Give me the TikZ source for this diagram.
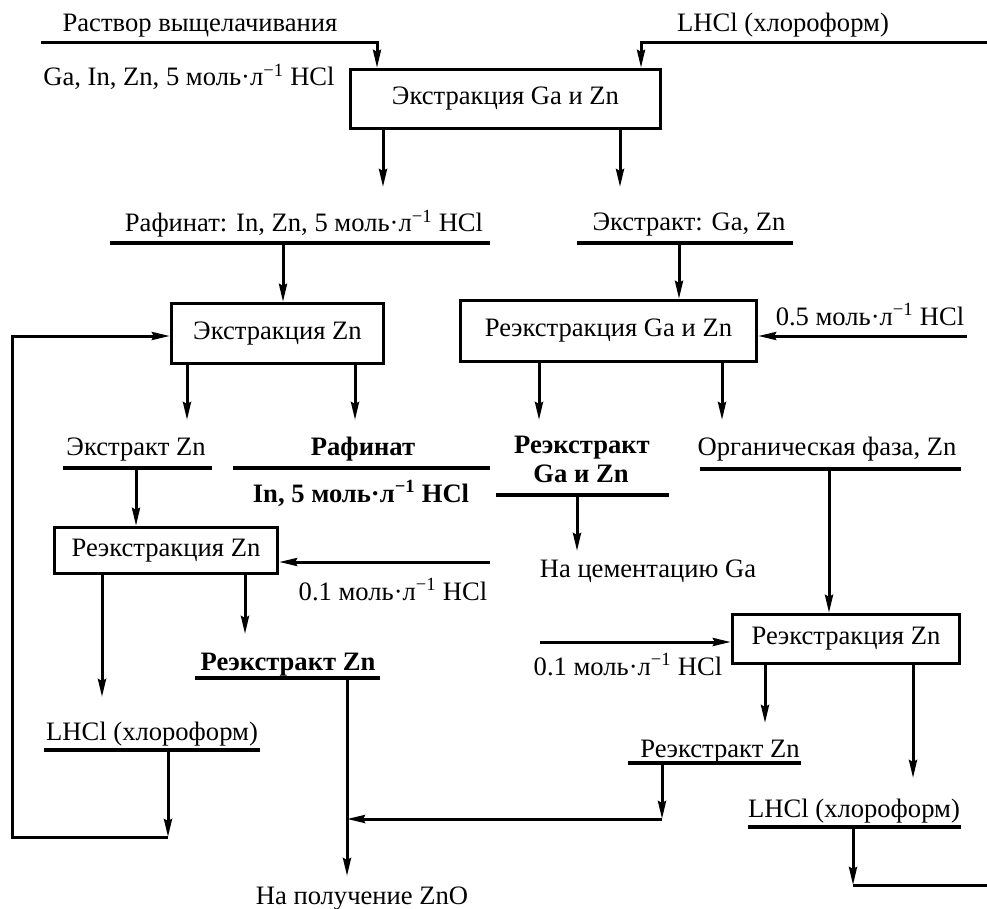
\documentclass[tikz,border=0pt]{standalone}
\usepackage{fontspec}
\setmainfont{Liberation Serif}
\usetikzlibrary{arrows.meta}
\newcommand\dfont{\fontsize{26.6}{30}\selectfont}
\newcommand\ml{моль·л\textsuperscript{−1}}
\begin{document}
\begin{tikzpicture}[x=1pt,y=-1pt,
  line width=3pt, line join=miter,
  box/.style={draw, line width=3.3pt, inner sep=0pt, font=\dfont},
  lbl/.style={inner sep=0pt, anchor=base, font=\dfont},
  blbl/.style={lbl, font=\dfont\bfseries},
  bar/.style={line width=3.3pt},
  arr/.style={-{Stealth[length=18pt,width=8pt,inset=2pt]}}]
\useasboundingbox (0,0) rectangle (987,909);

% ---------- boxes
\node[box, minimum width=310pt, minimum height=59pt] (b1) at (505.5,99) {Экстракция Ga и Zn};
\node[box, minimum width=212pt, minimum height=60pt] (b2) at (277.5,333.5) {Экстракция Zn};
\node[box, minimum width=296pt, minimum height=61pt] (b3) at (608.5,331) {Реэкстракция Ga и Zn};
\node[box, minimum width=223pt, minimum height=46pt] (b4) at (166,550.5) {Реэкстракция Zn};
\node[box, minimum width=227pt, minimum height=49pt] (b5) at (846,639) {Реэкстракция Zn};

% ---------- labels
\node[lbl] (tFeed) at (200,32) {Раствор выщелачивания};
\node[lbl] (tFeed2) at (189,86) {Ga, In, Zn, 5 \ml{} HCl};
\node[lbl] (tLHCl1) at (783,32) {LHCl (хлороформ)};
\node[lbl] (tRaf) at (304,232) {Рафинат: In, Zn, 5 \ml{} HCl};
\node[lbl] (tExt) at (689,231) {Экстракт: Ga, Zn};
\node[lbl] (t05) at (870,325) {0.5 \ml{} HCl};
\node[lbl] (tExtZn) at (136,455) {Экстракт Zn};
\node[blbl] (tRaf2) at (363,455) {Рафинат};
\node[blbl] (tRaf3) at (361,502) {In, 5 \ml{} HCl};
\node[blbl] (tRe1) at (582,453) {Реэкстракт};
\node[blbl] (tRe2) at (581,482) {Ga и Zn};
\node[lbl] (tOrg) at (827,455) {Органическая фаза, Zn};
\node[lbl] (tCem) at (648,577) {На цементацию Ga};
\node[lbl] (t01a) at (393,600) {0.1 \ml{} HCl};
\node[lbl] (t01b) at (628,675) {0.1 \ml{} HCl};
\node[blbl] (tReZnL) at (288,670) {Реэкстракт Zn};
\node[lbl] (tLHCl2) at (152,740) {LHCl (хлороформ)};
\node[lbl] (tZnO) at (362,904) {На получение ZnO};
\node[lbl] (tReZnR) at (720,757) {Реэкстракт Zn};
\node[lbl] (tLHCl3) at (854,817) {LHCl (хлороформ)};

% ---------- coordinates
\coordinate (feedL) at (41,43);
\coordinate (feedLx) at (377,43);
\coordinate (feedR) at (987,43);
\coordinate (feedRx) at (641,43);
\coordinate (o1a) at (383,187);
\coordinate (o1b) at (620,187);
\coordinate (rafL) at (110,243);
\coordinate (rafR) at (490,243);
\coordinate (rafD) at (283,243);
\coordinate (extL) at (577,243);
\coordinate (extR) at (793,243);
\coordinate (extD) at (679,243);
\coordinate (f05) at (967,336);
\coordinate (o2a) at (187,420);
\coordinate (o2b) at (355,420);
\coordinate (o3a) at (539,420);
\coordinate (o3b) at (722,420);
\coordinate (ezL) at (63,468);
\coordinate (ezR) at (212,468);
\coordinate (ezD) at (136,468);
\coordinate (r2L) at (233,468);
\coordinate (r2R) at (490,468);
\coordinate (reL) at (496,495);
\coordinate (reR) at (669,495);
\coordinate (reD) at (577,495);
\coordinate (reE) at (577,551);
\coordinate (orL) at (700,469);
\coordinate (orR) at (961,469);
\coordinate (orD) at (829,469);
\coordinate (f01a) at (490,562);
\coordinate (f01b) at (540,642);
\coordinate (o4a) at (102,697);
\coordinate (o4b) at (245,634);
\coordinate (rzL) at (195,678);
\coordinate (rzR) at (380,678);
\coordinate (rzD) at (347,678);
\coordinate (rzE) at (347,876);
\coordinate (join) at (347,819);
\coordinate (o5a) at (765,723);
\coordinate (o5b) at (913,778);
\coordinate (rrL) at (628,763);
\coordinate (rrR) at (801,763);
\coordinate (rrD) at (662,763);
\coordinate (rrC) at (662,819);
\coordinate (lrL) at (748,827);
\coordinate (lrR) at (961,827);
\coordinate (lrD) at (853,827);
\coordinate (lrC) at (853,885);
\coordinate (lrE) at (987,885);
\coordinate (llL) at (44,750);
\coordinate (llR) at (260,750);
\coordinate (llD) at (168,750);
\coordinate (llC) at (168,837);
\coordinate (loopB) at (12,837);
\coordinate (loopT) at (12,336);

% ---------- feeds into box 1
\draw[arr] (feedL) -| (feedLx |- b1.north);
\draw[arr] (feedR) -| (feedRx |- b1.north);
\draw[arr] (o1a |- b1.south) -- (o1a);
\draw[arr] (o1b |- b1.south) -- (o1b);

% ---------- row 2
\draw[bar] (rafL) -- (rafR);
\draw[bar] (extL) -- (extR);
\draw[arr] (rafD) -- (rafD |- b2.north);
\draw[arr] (extD) -- (extD |- b3.north);
\draw[arr] (f05) -- (f05 -| b3.east);
\draw[arr] (o2a |- b2.south) -- (o2a);
\draw[arr] (o2b |- b2.south) -- (o2b);
\draw[arr] (o3a |- b3.south) -- (o3a);
\draw[arr] (o3b |- b3.south) -- (o3b);

% ---------- row 3
\draw[bar] (ezL) -- (ezR);
\draw[bar] (r2L) -- (r2R);
\draw[bar] (reL) -- (reR);
\draw[bar] (orL) -- (orR);
\draw[arr] (ezD) -- (ezD |- b4.north);
\draw[arr] (reD) -- (reE);
\draw[arr] (orD) -- (orD |- b5.north);
\draw[arr] (f01a) -- (f01a -| b4.east);
\draw[arr] (f01b) -- (f01b -| b5.west);

% ---------- lower part
\draw[arr] (o4a |- b4.south) -- (o4a);
\draw[arr] (o4b |- b4.south) -- (o4b);
\draw[bar] (rzL) -- (rzR);
\draw[arr] (rzD) -- (rzE);
\draw[arr] (o5a |- b5.south) -- (o5a);
\draw[arr] (o5b |- b5.south) -- (o5b);
\draw[bar] (rrL) -- (rrR);
\draw[arr] (rrD) -- (rrC);
\draw[arr] (rrC) -- (join);
\draw[bar] (lrL) -- (lrR);
\draw[arr] (lrD) -- (lrC);
\draw (lrC) -- (lrE);
\draw[bar] (llL) -- (llR);
\draw[arr] (llD) -- (llC);
\draw[arr] (llC) -- (loopB) -- (loopT) -- (loopT -| b2.west);
\end{tikzpicture}
\end{document}
